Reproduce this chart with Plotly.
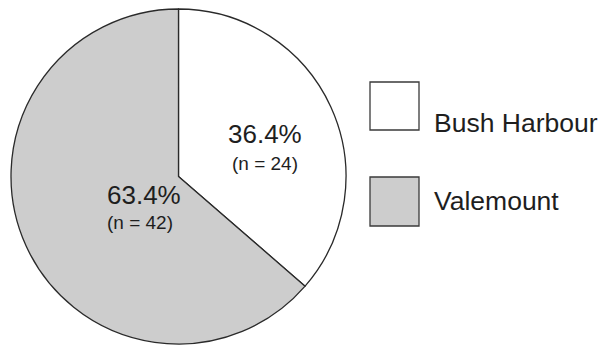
import plotly.graph_objects as go

# Sample sites and their counts
sites = ["Bush Harbour", "Valemount"]
counts = [24, 42]
pct_labels = ["36.4%", "63.4%"]
n_labels = ["(n = 24)", "(n = 42)"]
colors = ["#ffffff", "#cdcdcd"]

W, H = 602, 348
FONT = "Liberation Sans, Arial, Helvetica, sans-serif"
INK = "#1e1e1e"

fig = go.Figure(
    go.Pie(
        labels=sites,
        values=counts,
        sort=False,
        direction="clockwise",
        rotation=0,
        marker=dict(colors=colors, line=dict(color="#2a2a2a", width=1.3)),
        textinfo="none",
        hoverinfo="label+value+percent",
        showlegend=False,
        domain=dict(x=[9 / W, 348 / W], y=[4 / H, 1 - 9 / H]),
    )
)

annotations = []
# Slice labels: percentage on top, count underneath
label_pos = [(265, 134, 163), (105, 195, 222)]
for (cx, y1, y2), p, n in zip(label_pos, pct_labels, n_labels):
    annotations.append(dict(x=cx / W, y=1 - y1 / H, xref="paper", yref="paper",
                            text=p, showarrow=False,
                            font=dict(family=FONT, size=26, color=INK)))
    annotations.append(dict(x=cx / W, y=1 - y2 / H, xref="paper", yref="paper",
                            text=n, showarrow=False,
                            font=dict(family=FONT, size=19, color=INK)))

# Hand-built legend with large swatches
shapes = []
legend_rows = [(82, 130), (177, 226)]
for (top, bot), name, col in zip(legend_rows, sites, colors):
    shapes.append(dict(type="rect", xref="paper", yref="paper",
                       x0=370 / W, x1=419 / W, y0=1 - bot / H, y1=1 - top / H,
                       fillcolor=col, line=dict(color="#3a3a3a", width=1.3)))
    annotations.append(dict(x=432 / W, y=1 - (top + bot) / 2 / H,
                            xref="paper", yref="paper", xanchor="left",
                            text=name, showarrow=False,
                            font=dict(family=FONT, size=26.5, color=INK)))

fig.update_layout(
    width=W, height=H,
    margin=dict(l=0, r=0, t=0, b=0),
    paper_bgcolor="white", plot_bgcolor="white",
    annotations=annotations, shapes=shapes,
)

fig.write_html("out.html")
